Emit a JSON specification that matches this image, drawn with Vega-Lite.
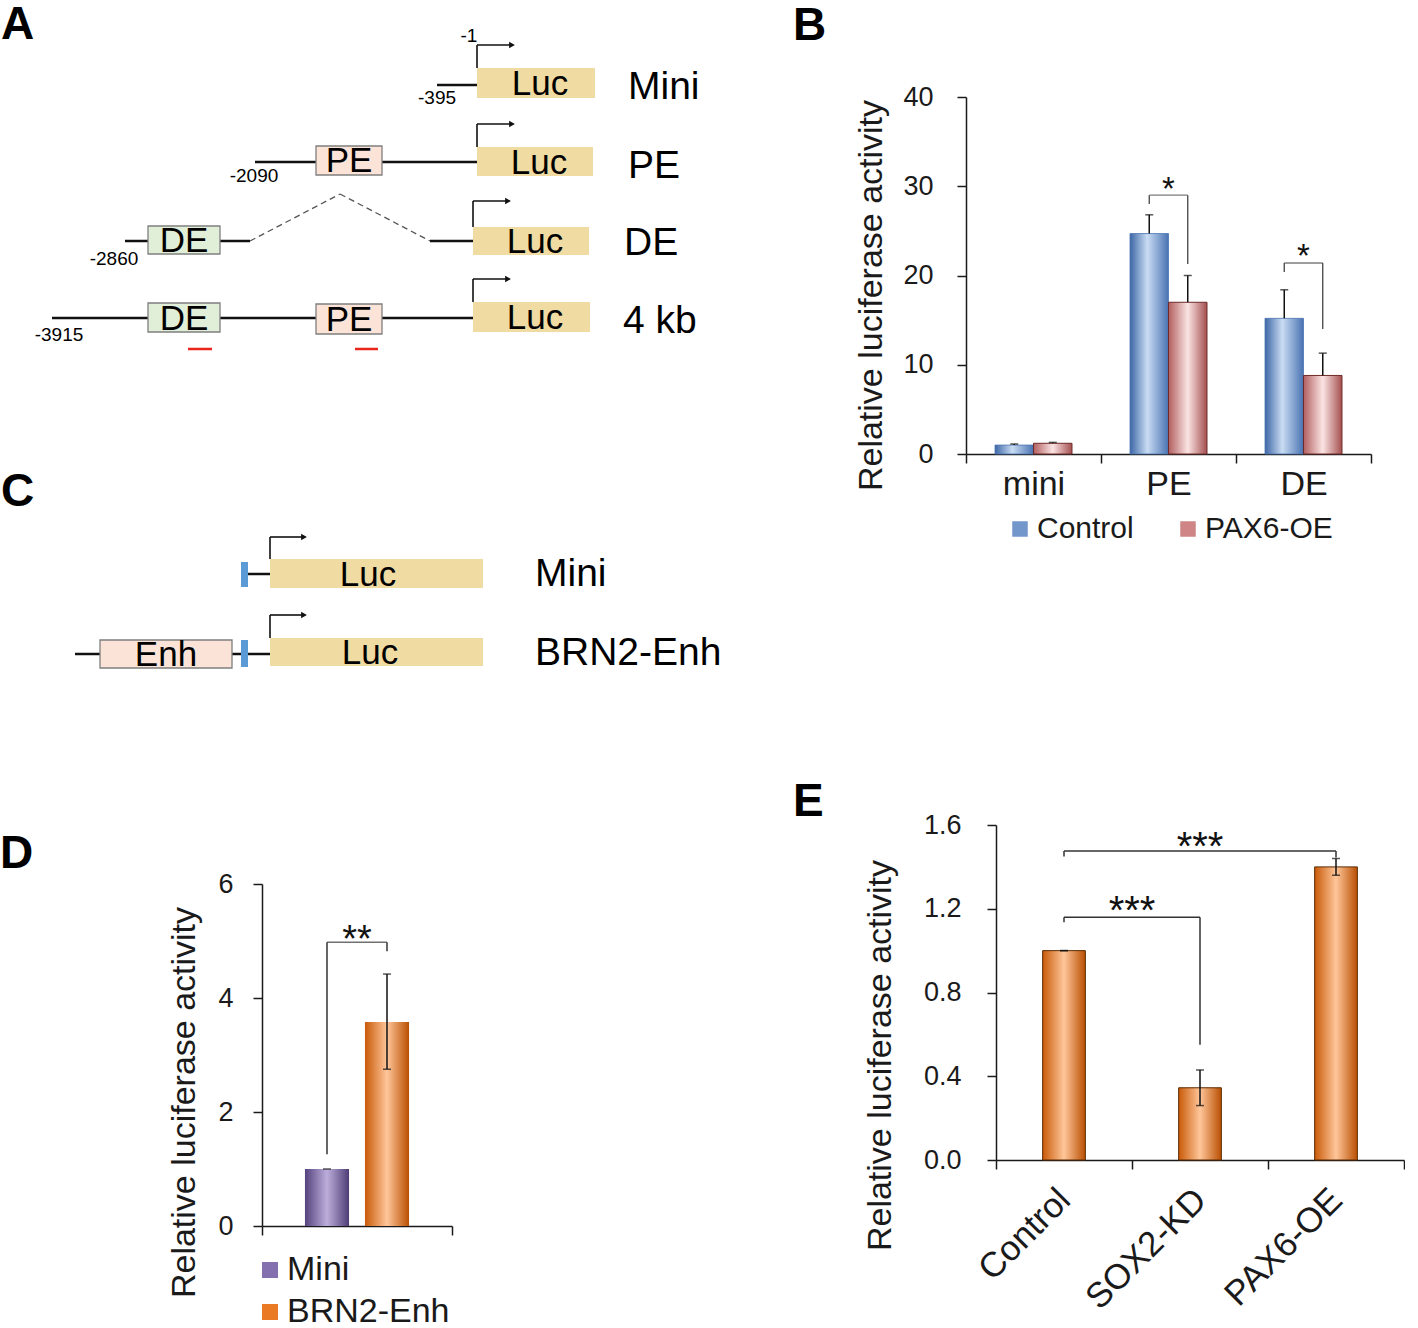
{
  "$schema": "https://vega.github.io/schema/vega-lite/v6.json",
  "padding": {"top": 2, "left": 0, "right": 0, "bottom": 0},
  "background": "white",
  "config": {
    "font": "Liberation Sans",
    "view": {"stroke": null},
    "axis": {"domainColor": "#1a1a1a", "tickColor": "#1a1a1a", "labelColor": "#1a1a1a", "titleColor": "#1a1a1a", "grid": false, "titleFontWeight": "normal", "domainWidth": 1.5, "tickWidth": 1.5, "labelFont": "Liberation Sans", "titleFont": "Liberation Sans"},
    "legend": {"labelFont": "Liberation Sans", "labelColor": "#1a1a1a", "labelLimit": 0},
    "title": {"font": "Liberation Sans", "fontWeight": "bold", "fontSize": 46, "color": "#000", "anchor": "start", "frame": "group"}
  },
  "datasets": {
    "boxes": [
      {"x": 477, "x2": 595, "y": 66, "y2": 96, "kind": "Luc"},
      {"x": 477, "x2": 593, "y": 145, "y2": 174, "kind": "Luc"},
      {"x": 473, "x2": 589, "y": 225, "y2": 253, "kind": "Luc"},
      {"x": 473, "x2": 590, "y": 300, "y2": 330, "kind": "Luc"},
      {"x": 316, "x2": 382, "y": 144, "y2": 173, "kind": "PE"},
      {"x": 148, "x2": 220, "y": 224, "y2": 252, "kind": "DE"},
      {"x": 148, "x2": 220, "y": 301, "y2": 330, "kind": "DE"},
      {"x": 316, "x2": 382, "y": 302, "y2": 332, "kind": "PE"},
      {"x": 270, "x2": 483, "y": 557, "y2": 586, "kind": "Luc"},
      {"x": 270, "x2": 483, "y": 636, "y2": 664, "kind": "Luc"},
      {"x": 100, "x2": 232, "y": 638, "y2": 666, "kind": "Enh"},
      {"x": 241, "x2": 248, "y": 560, "y2": 585, "kind": "Pro"},
      {"x": 241, "x2": 248, "y": 638, "y2": 665, "kind": "Pro"}
    ],
    "lines": [
      {"x": 437, "x2": 477, "y": 83, "y2": 83},
      {"x": 255, "x2": 316, "y": 160, "y2": 160},
      {"x": 382, "x2": 477, "y": 160, "y2": 160},
      {"x": 125, "x2": 148, "y": 239, "y2": 239},
      {"x": 220, "x2": 250, "y": 239, "y2": 239},
      {"x": 430, "x2": 473, "y": 239, "y2": 239},
      {"x": 52, "x2": 148, "y": 316, "y2": 316},
      {"x": 220, "x2": 316, "y": 316, "y2": 316},
      {"x": 382, "x2": 473, "y": 316, "y2": 316},
      {"x": 248, "x2": 270, "y": 572, "y2": 572},
      {"x": 75, "x2": 100, "y": 652, "y2": 652},
      {"x": 232, "x2": 241, "y": 652, "y2": 652},
      {"x": 248, "x2": 270, "y": 652, "y2": 652}
    ],
    "dashes": [
      {"x": 250, "x2": 340, "y": 239, "y2": 192},
      {"x": 340, "x2": 430, "y": 192, "y2": 239}
    ],
    "tss": [
      {"x": 477, "x2": 477, "y": 66, "y2": 43}, {"x": 477, "x2": 510, "y": 43, "y2": 43},
      {"x": 477, "x2": 477, "y": 145, "y2": 122}, {"x": 477, "x2": 510, "y": 122, "y2": 122},
      {"x": 473, "x2": 473, "y": 225, "y2": 199}, {"x": 473, "x2": 506, "y": 199, "y2": 199},
      {"x": 473, "x2": 473, "y": 300, "y2": 277}, {"x": 473, "x2": 506, "y": 277, "y2": 277},
      {"x": 270, "x2": 270, "y": 557, "y2": 535}, {"x": 270, "x2": 302, "y": 535, "y2": 535},
      {"x": 270, "x2": 270, "y": 636, "y2": 613}, {"x": 270, "x2": 302, "y": 613, "y2": 613}
    ],
    "heads": [
      {"x": 512, "y": 43}, {"x": 512, "y": 122}, {"x": 508, "y": 199},
      {"x": 508, "y": 277}, {"x": 304, "y": 535}, {"x": 304, "y": 613}
    ],
    "redmarks": [
      {"x": 188, "x2": 212, "y": 347, "y2": 347},
      {"x": 355, "x2": 378, "y": 347, "y2": 347}
    ],
    "boxlabels": [
      {"x": 540, "y": 82, "t": "Luc"}, {"x": 539, "y": 161, "t": "Luc"},
      {"x": 535, "y": 240, "t": "Luc"}, {"x": 535, "y": 316, "t": "Luc"},
      {"x": 349, "y": 159, "t": "PE"}, {"x": 349, "y": 318, "t": "PE"},
      {"x": 184, "y": 239, "t": "DE"}, {"x": 184, "y": 317, "t": "DE"},
      {"x": 368, "y": 573, "t": "Luc"}, {"x": 370, "y": 651, "t": "Luc"},
      {"x": 166, "y": 653, "t": "Enh"}
    ],
    "rowlabels": [
      {"x": 628, "y": 85, "t": "Mini"}, {"x": 628, "y": 164, "t": "PE"},
      {"x": 624, "y": 241, "t": "DE"}, {"x": 623, "y": 319, "t": "4 kb"},
      {"x": 535, "y": 572, "t": "Mini"}, {"x": 535, "y": 651, "t": "BRN2-Enh"}
    ],
    "coords": [
      {"x": 469, "y": 34, "t": "-1"}, {"x": 437, "y": 96, "t": "-395"},
      {"x": 254, "y": 174, "t": "-2090"}, {"x": 114, "y": 257, "t": "-2860"},
      {"x": 59, "y": 333, "t": "-3915"}
    ],
    "letters": [
      {"x": 1, "y": 23, "t": "A"}, {"x": 1, "y": 490, "t": "C"}
    ],
    "bBars": [
      {"grp": "mini", "series": "Control", "v": 1.0, "hi": 1.12},
      {"grp": "mini", "series": "PAX6-OE", "v": 1.2, "hi": 1.3},
      {"grp": "PE", "series": "Control", "v": 24.7, "hi": 26.8},
      {"grp": "PE", "series": "PAX6-OE", "v": 17.0, "hi": 20.0},
      {"grp": "DE", "series": "Control", "v": 15.2, "hi": 18.4},
      {"grp": "DE", "series": "PAX6-OE", "v": 8.8, "hi": 11.3}
    ],
    "bLegs": [
      {"grp": "PE", "series": "Control", "y1": 29.0, "y2": 28.0},
      {"grp": "PE", "series": "PAX6-OE", "y1": 29.0, "y2": 21.3},
      {"grp": "DE", "series": "Control", "y1": 21.4, "y2": 20.4},
      {"grp": "DE", "series": "PAX6-OE", "y1": 21.4, "y2": 14.0}
    ],
    "bTops": [
      {"grp": "PE", "y": 29.0, "sy": 28.45, "t": "*"},
      {"grp": "DE", "y": 21.4, "sy": 20.9, "t": "*"}
    ],
    "dBars": [
      {"grp": "g", "series": "Mini", "v": 1.0, "lo": 1.0, "hi": 1.0},
      {"grp": "g", "series": "BRN2-Enh", "v": 3.58, "lo": 2.75, "hi": 4.42}
    ],
    "dLegs": [
      {"grp": "g", "series": "Mini", "y1": 4.98, "y2": 1.26},
      {"grp": "g", "series": "BRN2-Enh", "y1": 4.98, "y2": 4.82}
    ],
    "dTop": [
      {"grp": "g", "y": 4.98, "sy": 4.8, "t": "**"}
    ],
    "eBars": [
      {"cond": "Control", "v": 1.0, "lo": 1.0, "hi": 1.0},
      {"cond": "SOX2-KD", "v": 0.345, "lo": 0.26, "hi": 0.43},
      {"cond": "PAX6-OE", "v": 1.4, "lo": 1.36, "hi": 1.44}
    ],
    "eLegs": [
      {"cond": "Control", "y1": 1.476, "y2": 1.45},
      {"cond": "PAX6-OE", "y1": 1.476, "y2": 1.445},
      {"cond": "Control", "y1": 1.16, "y2": 1.135},
      {"cond": "SOX2-KD", "y1": 1.16, "y2": 0.55}
    ],
    "eSpans": [
      {"from": "Control", "to": "PAX6-OE", "y": 1.476},
      {"from": "Control", "to": "SOX2-KD", "y": 1.16}
    ],
    "eStars1": [{"cond": "SOX2-KD", "y": 1.432, "t": "***"}],
    "eStars2": [{"cond": "Control", "y": 1.128, "t": "***"}]
  },
  "spacing": 53,
  "resolve": {"scale": {"fill": "independent"}},
  "hconcat": [
    {
      "spacing": 139,
      "resolve": {"scale": {"fill": "independent"}},
      "vconcat": [
        {
          "width": 478,
          "height": 595,
          "encoding": {
            "x": {"field": "x", "type": "quantitative", "scale": {"domain": [262, 740], "nice": false, "zero": false}, "axis": null},
            "y": {"field": "y", "type": "quantitative", "scale": {"domain": [95, 690], "nice": false, "zero": false, "reverse": true}, "axis": null}
          },
          "layer": [
            {"data": {"name": "lines"}, "mark": {"type": "rule", "color": "#111", "strokeWidth": 2.5}, "encoding": {"x2": {"field": "x2"}, "y2": {"field": "y2"}}},
            {"data": {"name": "dashes"}, "mark": {"type": "rule", "color": "#555", "strokeWidth": 1.3, "strokeDash": [6, 4]}, "encoding": {"x2": {"field": "x2"}, "y2": {"field": "y2"}}},
            {"data": {"name": "tss"}, "mark": {"type": "rule", "color": "#111", "strokeWidth": 1.6}, "encoding": {"x2": {"field": "x2"}, "y2": {"field": "y2"}}},
            {"data": {"name": "heads"}, "mark": {"type": "point", "shape": "triangle-right", "filled": true, "size": 45, "color": "#111", "opacity": 1}},
            {"data": {"name": "redmarks"}, "mark": {"type": "rule", "color": "#e8261c", "strokeWidth": 2.5}, "encoding": {"x2": {"field": "x2"}, "y2": {"field": "y2"}}},
            {
              "data": {"name": "boxes"},
              "mark": {"type": "rect", "stroke": "#7f7f7f", "strokeWidth": 1.3},
              "encoding": {
                "x2": {"field": "x2"},
                "y2": {"field": "y2"},
                "fill": {"field": "kind", "type": "nominal", "scale": {"domain": ["Luc", "PE", "DE", "Enh", "Pro"], "range": ["#f0dba2", "#fbe4d7", "#e1efd9", "#fbe4d7", "#5b9bd5"]}, "legend": null},
                "strokeOpacity": {"condition": {"test": "datum.kind === 'Luc' || datum.kind === 'Pro'", "value": 0}, "value": 1}
              }
            },
            {"data": {"name": "boxlabels"}, "mark": {"type": "text", "font": "Liberation Sans", "fontSize": 35, "align": "center", "baseline": "middle", "color": "#000"}, "encoding": {"text": {"field": "t"}}},
            {"data": {"name": "rowlabels"}, "mark": {"type": "text", "font": "Liberation Sans", "fontSize": 39, "align": "left", "baseline": "middle", "color": "#000"}, "encoding": {"text": {"field": "t"}}},
            {"data": {"name": "coords"}, "mark": {"type": "text", "font": "Liberation Sans", "fontSize": 19, "align": "center", "baseline": "middle", "color": "#000"}, "encoding": {"text": {"field": "t"}}},
            {"data": {"name": "letters"}, "mark": {"type": "text", "font": "Liberation Sans", "fontSize": 46, "fontWeight": "bold", "align": "left", "baseline": "middle", "color": "#000"}, "encoding": {"text": {"field": "t"}}}
          ]
        },
        {
          "width": 190,
          "height": 342,
          "title": {"text": "D", "dx": -262, "offset": -8},
          "encoding": {
            "x": {"field": "grp", "type": "nominal", "scale": {"domain": ["g"], "paddingInner": 0, "paddingOuter": 0}, "axis": {"title": null, "labels": false, "tickBand": "extent", "tickSize": 9}}
          },
          "layer": [
            {
              "data": {"name": "dBars"},
              "mark": {"type": "bar", "width": {"band": 0.1}},
              "encoding": {
                "y": {"field": "v", "type": "quantitative", "scale": {"domain": [0, 6], "nice": false}, "axis": {"values": [0, 2, 4, 6], "format": "d", "title": "Relative luciferase activity", "titleFontSize": 34, "labelFontSize": 27, "tickSize": 9, "labelPadding": 20, "titlePadding": 16, "titleY": 218}},
                "y2": {"field": "v"},
                "fill": {
                  "field": "series", "type": "nominal",
                  "scale": {"domain": ["Mini", "BRN2-Enh"], "range": ["#8470ae", "#ea7a24"]},
                  "legend": {
                    "orient": "none", "legendX": -9, "legendY": 369, "direction": "vertical", "title": null,
                    "labelFontSize": 34, "symbolType": "square", "symbolSize": 256, "rowPadding": 8, "labelOffset": 0, "symbolOpacity": 1, "labelLimit": 0
                  }
                }
              }
            },
            {
              "data": {"name": "dBars"},
              "transform": [{"filter": "datum.series === 'Mini'"}],
              "mark": {"type": "bar", "width": {"band": 0.232}, "xOffset": -30, "fill": {"gradient": "linear", "x1": 0, "y1": 0, "x2": 1, "y2": 0, "stops": [{"offset": 0, "color": "#54427e"}, {"offset": 0.5, "color": "#bcaedb"}, {"offset": 1, "color": "#4d3c75"}]}},
              "encoding": {"y": {"field": "v", "type": "quantitative", "title": "Relative luciferase activity"}}
            },
            {
              "data": {"name": "dBars"},
              "transform": [{"filter": "datum.series === 'BRN2-Enh'"}],
              "mark": {"type": "bar", "width": {"band": 0.232}, "xOffset": 30, "fill": {"gradient": "linear", "x1": 0, "y1": 0, "x2": 1, "y2": 0, "stops": [{"offset": 0, "color": "#c95a08"}, {"offset": 0.5, "color": "#ffc69a"}, {"offset": 1, "color": "#b94f02"}]}},
              "encoding": {"y": {"field": "v", "type": "quantitative", "title": "Relative luciferase activity"}}
            },
            {
              "data": {"name": "dBars"},
              "transform": [{"filter": "datum.series === 'BRN2-Enh'"}],
              "mark": {"type": "rule", "color": "#111", "strokeWidth": 1.5, "xOffset": 30},
              "encoding": {"y": {"field": "lo", "type": "quantitative", "title": "Relative luciferase activity"}, "y2": {"field": "hi"}}
            },
            {
              "data": {"name": "dBars"},
              "transform": [{"filter": "datum.series === 'BRN2-Enh'"}, {"fold": ["lo", "hi"], "as": ["end", "ev"]}],
              "mark": {"type": "tick", "color": "#111", "size": 8, "thickness": 1.5, "xOffset": 30},
              "encoding": {"y": {"field": "ev", "type": "quantitative", "title": "Relative luciferase activity"}}
            },
            {
              "data": {"name": "dBars"},
              "transform": [{"filter": "datum.series === 'Mini'"}],
              "mark": {"type": "tick", "color": "#111", "size": 8, "thickness": 1.5, "xOffset": -30},
              "encoding": {"y": {"field": "hi", "type": "quantitative", "title": "Relative luciferase activity"}}
            },
            {
              "data": {"name": "dLegs"},
              "transform": [{"filter": "datum.series === 'Mini'"}],
              "mark": {"type": "rule", "color": "#333", "strokeWidth": 1.5, "xOffset": -30},
              "encoding": {"y": {"field": "y1", "type": "quantitative", "title": "Relative luciferase activity"}, "y2": {"field": "y2"}}
            },
            {
              "data": {"name": "dLegs"},
              "transform": [{"filter": "datum.series === 'BRN2-Enh'"}],
              "mark": {"type": "rule", "color": "#333", "strokeWidth": 1.5, "xOffset": 30},
              "encoding": {"y": {"field": "y1", "type": "quantitative", "title": "Relative luciferase activity"}, "y2": {"field": "y2"}}
            },
            {
              "data": {"name": "dTop"},
              "mark": {"type": "tick", "color": "#333", "size": 60, "thickness": 1.5},
              "encoding": {"y": {"field": "y", "type": "quantitative", "title": "Relative luciferase activity"}}
            },
            {
              "data": {"name": "dTop"},
              "mark": {"type": "text", "fontSize": 38, "align": "center", "baseline": "alphabetic", "color": "#111"},
              "encoding": {"y": {"field": "sy", "type": "quantitative", "title": "Relative luciferase activity"}, "text": {"field": "t"}}
            }
          ]
        }
      ]
    },
    {
      "spacing": 235,
      "resolve": {"scale": {"fill": "independent"}},
      "vconcat": [
        {
          "width": 405,
          "height": 357,
          "title": {"text": "B", "dx": -173, "offset": 33},
          "encoding": {
            "x": {"field": "grp", "type": "nominal", "scale": {"domain": ["mini", "PE", "DE"], "paddingInner": 0, "paddingOuter": 0}, "axis": {"title": null, "labelAngle": 0, "labelFontSize": 34, "labelPadding": 4, "tickBand": "extent", "tickSize": 9}}
          },
          "layer": [
            {
              "data": {"name": "bBars"},
              "mark": {"type": "bar", "width": {"band": 0.1}},
              "encoding": {
                "y": {"field": "v", "type": "quantitative", "scale": {"domain": [0, 40], "nice": false}, "axis": {"values": [0, 10, 20, 30, 40], "title": "Relative luciferase activity", "titleFontSize": 34, "labelFontSize": 27, "tickSize": 9, "labelPadding": 24, "titlePadding": 14, "titleY": 198}},
                "y2": {"field": "v"},
                "fill": {
                  "field": "series", "type": "nominal",
                  "scale": {"domain": ["Control", "PAX6-OE"], "range": ["#7396cb", "#cf8585"]},
                  "legend": {
                    "orient": "none", "legendX": 39, "legendY": 417, "direction": "horizontal", "title": null,
                    "labelFontSize": 30, "symbolType": "square", "symbolSize": 240, "labelOffset": 2, "columnPadding": 39, "symbolOpacity": 1, "labelLimit": 0
                  }
                }
              }
            },
            {
              "data": {"name": "bBars"},
              "transform": [{"filter": "datum.series === 'Control'"}],
              "mark": {"type": "bar", "width": {"band": 0.285}, "xOffset": -19.25, "stroke": "#4a73b2", "strokeWidth": 0.8, "fill": {"gradient": "linear", "x1": 0, "y1": 0, "x2": 1, "y2": 0, "stops": [{"offset": 0, "color": "#3d67a6"}, {"offset": 0.45, "color": "#c9dcf3"}, {"offset": 1, "color": "#4a73b2"}]}},
              "encoding": {"y": {"field": "v", "type": "quantitative", "title": "Relative luciferase activity"}}
            },
            {
              "data": {"name": "bBars"},
              "transform": [{"filter": "datum.series === 'PAX6-OE'"}],
              "mark": {"type": "bar", "width": {"band": 0.285}, "xOffset": 19.25, "stroke": "#6e2a2a", "strokeWidth": 1, "fill": {"gradient": "linear", "x1": 0, "y1": 0, "x2": 1, "y2": 0, "stops": [{"offset": 0, "color": "#b25f5f"}, {"offset": 0.5, "color": "#fbe4e4"}, {"offset": 1, "color": "#a54f4f"}]}},
              "encoding": {"y": {"field": "v", "type": "quantitative", "title": "Relative luciferase activity"}}
            },
            {
              "data": {"name": "bBars"},
              "transform": [{"filter": "datum.series === 'Control'"}],
              "mark": {"type": "rule", "color": "#111", "strokeWidth": 1.5, "xOffset": -19.25},
              "encoding": {"y": {"field": "v", "type": "quantitative", "title": "Relative luciferase activity"}, "y2": {"field": "hi"}}
            },
            {
              "data": {"name": "bBars"},
              "transform": [{"filter": "datum.series === 'PAX6-OE'"}],
              "mark": {"type": "rule", "color": "#111", "strokeWidth": 1.5, "xOffset": 19.25},
              "encoding": {"y": {"field": "v", "type": "quantitative", "title": "Relative luciferase activity"}, "y2": {"field": "hi"}}
            },
            {
              "data": {"name": "bBars"},
              "transform": [{"filter": "datum.series === 'Control'"}],
              "mark": {"type": "tick", "color": "#111", "size": 8, "thickness": 1.5, "xOffset": -19.25},
              "encoding": {"y": {"field": "hi", "type": "quantitative", "title": "Relative luciferase activity"}}
            },
            {
              "data": {"name": "bBars"},
              "transform": [{"filter": "datum.series === 'PAX6-OE'"}],
              "mark": {"type": "tick", "color": "#111", "size": 8, "thickness": 1.5, "xOffset": 19.25},
              "encoding": {"y": {"field": "hi", "type": "quantitative", "title": "Relative luciferase activity"}}
            },
            {
              "data": {"name": "bLegs"},
              "transform": [{"filter": "datum.series === 'Control'"}],
              "mark": {"type": "rule", "color": "#444", "strokeWidth": 1.3, "xOffset": -19.25},
              "encoding": {"y": {"field": "y1", "type": "quantitative", "title": "Relative luciferase activity"}, "y2": {"field": "y2"}}
            },
            {
              "data": {"name": "bLegs"},
              "transform": [{"filter": "datum.series === 'PAX6-OE'"}],
              "mark": {"type": "rule", "color": "#444", "strokeWidth": 1.3, "xOffset": 19.25},
              "encoding": {"y": {"field": "y1", "type": "quantitative", "title": "Relative luciferase activity"}, "y2": {"field": "y2"}}
            },
            {
              "data": {"name": "bTops"},
              "mark": {"type": "tick", "color": "#444", "size": 38.5, "thickness": 1.3},
              "encoding": {"y": {"field": "y", "type": "quantitative", "title": "Relative luciferase activity"}}
            },
            {
              "data": {"name": "bTops"},
              "mark": {"type": "text", "fontSize": 33, "align": "center", "baseline": "alphabetic", "color": "#111"},
              "encoding": {"y": {"field": "sy", "type": "quantitative", "title": "Relative luciferase activity"}, "text": {"field": "t"}}
            }
          ]
        },
        {
          "width": 438,
          "height": 335,
          "title": {"text": "E", "dx": -173, "offset": -15},
          "encoding": {
            "x": {"field": "cond", "type": "nominal", "scale": {"domain": ["Control", "SOX2-KD", "PAX6-OE"], "range": [30, 438], "paddingInner": 0, "paddingOuter": 0}, "axis": {"title": null, "labelAngle": -45, "labelBaseline": "middle", "labelFontSize": 35, "labelPadding": 25, "tickBand": "extent", "tickSize": 9}}
          },
          "layer": [
            {
              "data": {"name": "eBars"},
              "mark": {"type": "bar", "width": {"band": 0.314}, "fill": {"gradient": "linear", "x1": 0, "y1": 0, "x2": 1, "y2": 0, "stops": [{"offset": 0, "color": "#c95a08"}, {"offset": 0.5, "color": "#ffc69a"}, {"offset": 1, "color": "#b94f02"}]}, "stroke": "#5a2a00", "strokeWidth": 1},
              "encoding": {
                "y": {"field": "v", "type": "quantitative", "scale": {"domain": [0, 1.6], "nice": false}, "axis": {"values": [0, 0.4, 0.8, 1.2, 1.6], "format": ".1f", "offset": -30, "title": "Relative luciferase activity", "titleFontSize": 34, "labelFontSize": 27, "tickSize": 9, "labelPadding": 26, "titlePadding": 26, "titleY": 230}}
              }
            },
            {
              "data": {"name": "eBars"},
              "mark": {"type": "rule", "color": "#111", "strokeWidth": 1.5},
              "encoding": {"y": {"field": "lo", "type": "quantitative", "title": "Relative luciferase activity"}, "y2": {"field": "hi"}}
            },
            {
              "data": {"name": "eBars"},
              "transform": [{"fold": ["lo", "hi"], "as": ["end", "ev"]}],
              "mark": {"type": "tick", "color": "#111", "size": 8, "thickness": 1.5},
              "encoding": {"y": {"field": "ev", "type": "quantitative", "title": "Relative luciferase activity"}}
            },
            {
              "data": {"name": "eLegs"},
              "mark": {"type": "rule", "color": "#333", "strokeWidth": 1.5},
              "encoding": {"y": {"field": "y1", "type": "quantitative", "title": "Relative luciferase activity"}, "y2": {"field": "y2"}}
            },
            {
              "data": {"name": "eSpans"},
              "mark": {"type": "rule", "color": "#333", "strokeWidth": 1.5},
              "encoding": {"x": {"field": "from", "type": "nominal", "title": null}, "x2": {"field": "to"}, "y": {"field": "y", "type": "quantitative", "title": "Relative luciferase activity"}}
            },
            {
              "data": {"name": "eStars1"},
              "mark": {"type": "text", "fontSize": 40, "align": "center", "baseline": "alphabetic", "color": "#111"},
              "encoding": {"y": {"field": "y", "type": "quantitative", "title": "Relative luciferase activity"}, "text": {"field": "t"}}
            },
            {
              "data": {"name": "eStars2"},
              "mark": {"type": "text", "fontSize": 40, "align": "center", "baseline": "alphabetic", "color": "#111"},
              "encoding": {"x": {"field": "cond", "type": "nominal", "bandPosition": 1, "title": null}, "y": {"field": "y", "type": "quantitative", "title": "Relative luciferase activity"}, "text": {"field": "t"}}
            }
          ]
        }
      ]
    }
  ]
}
